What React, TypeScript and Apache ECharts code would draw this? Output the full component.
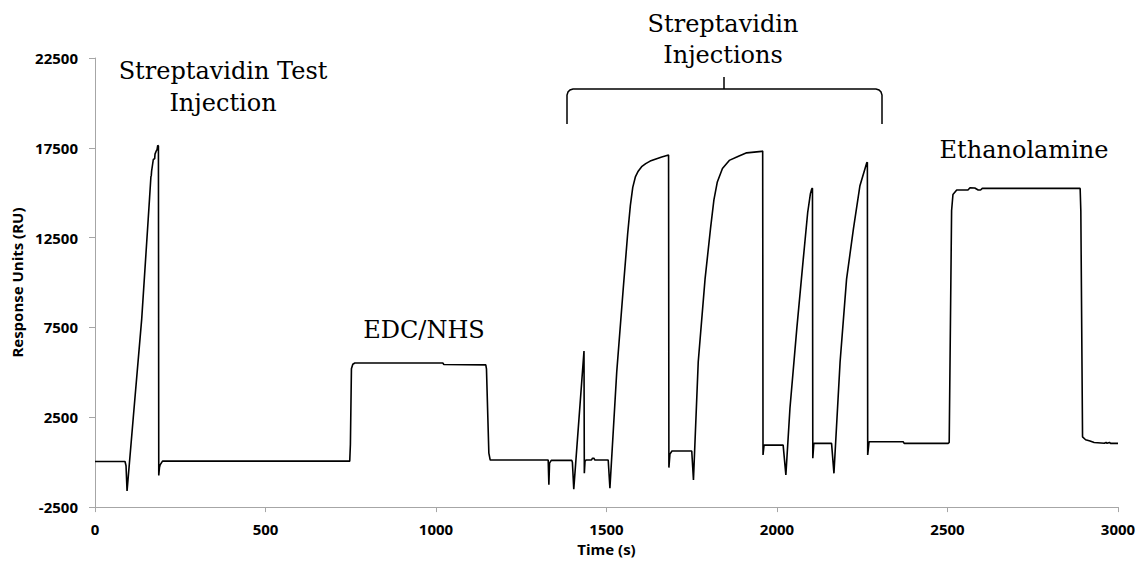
import React, { useEffect, useRef } from "react";
import * as echarts from "echarts";

// Time (s)
const timeS: number[] = [
  0, 88, 91, 94, 112, 137, 156, 160, 164, 165, 166, 171, 175, 176, 179, 182, 184, 186, 187, 189, 191, 198,
  747, 749, 752, 756, 762, 1020, 1023, 1146, 1148, 1152, 1155, 1159,
  1329, 1331, 1333, 1338, 1398, 1400, 1404, 1434, 1435, 1437, 1440, 1456, 1459, 1463, 1466, 1505, 1510,
  1530, 1549, 1562, 1570, 1577, 1585, 1593, 1603, 1615, 1628, 1645, 1662, 1682, 1683, 1686, 1692, 1750,
  1755, 1769, 1789, 1805, 1815, 1825, 1840, 1860, 1887, 1911, 1955, 1958, 1959, 1962, 2018,
  2026, 2038, 2058, 2077, 2090, 2098, 2102, 2104, 2105, 2108, 2160,
  2167, 2185, 2204, 2224, 2243, 2263, 2265, 2266, 2270, 2370, 2373, 2502,
  2505, 2512, 2516, 2527, 2560, 2566, 2580, 2590, 2597, 2602, 2889, 2891, 2896, 2905, 2918, 2930,
  2960, 2965, 2968, 2975, 2978, 3000,
];

// Response Units (RU)
const responseRU: number[] = [
  40, 40, -200, -1600, 2430, 7980, 13520, 14700, 15900, 15950, 16200, 16850, 16900, 17150, 17300, 17400, 17640, 17600, -740, -300, -150, 60,
  60, 1000, 5200, 5450, 5520, 5520, 5440, 5420, 5200, 2500, 500, 120,
  120, -1260, -50, 100, 110, 0, -1500, 6190, -620, 50, 120, 130, 220, 220, 120, 120, -1450,
  5020, 9640, 12700, 14300, 15300, 15900, 16200, 16450, 16620, 16760, 16880, 16990, 17100, -300, 450, 620, 620,
  -990, 5580, 10190, 13000, 14600, 15600, 16350, 16800, 17030, 17220, 17300, 17320, 400, 950, 950,
  -710, 3000, 7420, 11300, 13900, 14950, 15220, 15250, 220, 1050, 1050,
  -620, 5580, 10190, 12970, 15370, 16660, 16700, 400, 1140, 1140, 1050, 1050,
  1100, 14000, 14900, 15150, 15150, 15280, 15260, 15150, 15150, 15240, 15240, 14000, 1410, 1250, 1175, 1100,
  1050, 1100, 1050, 1100, 1050, 1050,
];

const xTicks = { min: 0, max: 3000, interval: 500 };
const yTicks = { min: -2500, max: 22500, interval: 5000 };

const annotations: { text: string; x: number; y: number }[] = [
  { text: "Streptavidin Test", x: 223, y: 71 },
  { text: "Injection", x: 223, y: 103 },
  { text: "Streptavidin", x: 723, y: 24 },
  { text: "Injections", x: 723, y: 55 },
  { text: "EDC/NHS", x: 424, y: 330 },
  { text: "Ethanolamine", x: 1024, y: 150 },
];

export default function App() {
  const ref = useRef<HTMLDivElement>(null);
  useEffect(() => {
    if (!ref.current) return;
    const chart = echarts.init(ref.current, undefined, { renderer: "svg" });
    const axisColor = "#a6a6a6";
    const labelFont = {
      fontFamily: "Open Sans",
      fontWeight: "bold" as const,
      fontSize: 15,
      color: "#000",
    };
    const plain = (v: number) => String(v);
    const data = timeS.map((t, i) => [t, responseRU[i]]);
    chart.setOption({
      animation: false,
      backgroundColor: "#fff",
      grid: { left: 95, right: 25, top: 58, bottom: 52 },
      xAxis: {
        type: "value",
        min: xTicks.min,
        max: xTicks.max,
        interval: xTicks.interval,
        name: "Time (s)",
        nameLocation: "middle",
        nameGap: 33,
        nameTextStyle: { ...labelFont },
        axisLine: { show: true, onZero: false, lineStyle: { color: axisColor, width: 1 } },
        axisTick: { show: true, length: 5, lineStyle: { color: axisColor } },
        axisLabel: { ...labelFont, margin: 14, formatter: plain },
        splitLine: { show: false },
      },
      yAxis: {
        type: "value",
        min: yTicks.min,
        max: yTicks.max,
        interval: yTicks.interval,
        name: "Response Units (RU)",
        nameLocation: "middle",
        nameGap: 67,
        nameTextStyle: { ...labelFont },
        axisLine: { show: true, onZero: false, lineStyle: { color: axisColor, width: 1 } },
        axisTick: { show: true, length: 6, lineStyle: { color: axisColor } },
        axisLabel: { ...labelFont, margin: 17, formatter: plain },
        splitLine: { show: false },
      },
      series: [
        {
          type: "line",
          data,
          showSymbol: false,
          symbol: "none",
          lineStyle: { color: "#000", width: 1.6 },
          smooth: false,
        },
      ],
      graphic: [
        ...annotations.map((a) => ({
          type: "text",
          x: a.x,
          y: a.y,
          style: {
            text: a.text,
            fontFamily: "DejaVu Serif",
            fontSize: 24,
            fill: "#000",
            align: "center",
            verticalAlign: "middle",
          },
        })),
        {
          type: "polyline",
          shape: {
            points: [
              [567, 124], [567, 95], [568, 92], [570, 90], [573, 89],
              [876, 89], [879, 90], [881, 92], [882, 95], [882, 124],
            ],
          },
          style: { stroke: "#000", lineWidth: 1.5, fill: "none" },
        },
        {
          type: "line",
          shape: { x1: 724, y1: 89, x2: 724, y2: 77 },
          style: { stroke: "#000", lineWidth: 1.5 },
        },
      ],
    });
    return () => chart.dispose();
  }, []);
  return (
    <div
      ref={ref}
      style={{ position: "fixed", left: 0, top: 0, width: 1143, height: 561 }}
    />
  );
}
